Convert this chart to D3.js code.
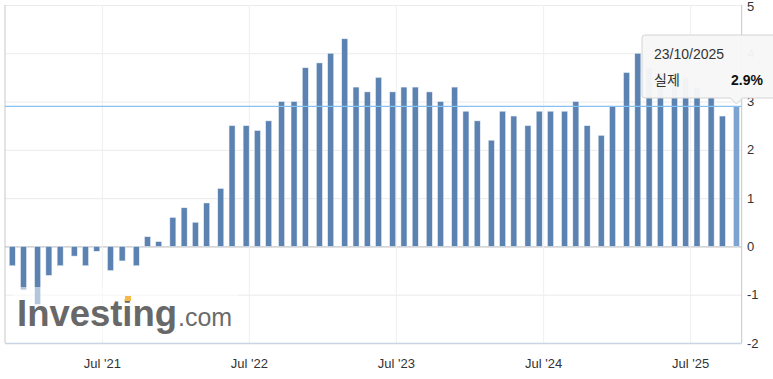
<!DOCTYPE html>
<html>
<head>
<meta charset="utf-8">
<script src="https://cdn.jsdelivr.net/npm/d3@7"></script>
<style>
  body { margin: 0; background: #fff; }
  svg { display: block; font-family: "Liberation Sans", Arial, "Noto Sans CJK KR", sans-serif; }
</style>
</head>
<body>
<div id="chart"></div>
<script>
// release dates (one per month) and CPI y/y actual values
const releaseDates = [
  "2020-11-19","2020-12-17","2021-01-21",
  "2021-02-18","2021-03-18","2021-04-22","2021-05-20","2021-06-17","2021-07-21",
  "2021-08-19","2021-09-23","2021-10-21","2021-11-18","2021-12-23","2022-01-20",
  "2022-02-17","2022-03-17","2022-04-21","2022-05-19","2022-06-23","2022-07-21",
  "2022-08-18","2022-09-19","2022-10-20","2022-11-17","2022-12-22","2023-01-19",
  "2023-02-23","2023-03-23","2023-04-20","2023-05-18","2023-06-22","2023-07-20",
  "2023-08-17","2023-09-21","2023-10-19","2023-11-23","2023-12-21","2024-01-18",
  "2024-02-22","2024-03-21","2024-04-18","2024-05-23","2024-06-20","2024-07-18",
  "2024-08-22","2024-09-19","2024-10-17","2024-11-21","2024-12-19","2025-01-23",
  "2025-02-20","2025-03-20","2025-04-17","2025-05-22","2025-06-19","2025-07-17",
  "2025-08-21","2025-09-18","2025-10-23"
]
const actual = [
  -0.4, -0.9, -1.2,
  -0.6, -0.4, -0.2, -0.4, -0.1, -0.5, -0.3, -0.4, 0.2, 0.1, 0.6, 0.8,
  0.5, 0.9, 1.2, 2.5, 2.5, 2.4, 2.6, 3.0, 3.0, 3.7, 3.8, 4.0,
  4.3, 3.3, 3.2, 3.5, 3.2, 3.3, 3.3, 3.2, 3.0, 3.3, 2.8, 2.6,
  2.2, 2.8, 2.7, 2.5, 2.8, 2.8, 2.8, 3.0, 2.5, 2.3, 2.9, 3.6,
  4.0, 3.7, 3.6, 3.6, 3.5, 3.3, 3.1, 2.7, 2.9
]
const xTicks = ["2021-07-01","2022-07-01","2023-07-01","2024-07-01","2025-07-01"]
const xTickLabels = ["Jul '21","Jul '22","Jul '23","Jul '24","Jul '25"]
const yTicks = [-2, -1, 0, 1, 2, 3, 4, 5]
const hoverLabel = "23/10/2025"
const hoverName = "실제"

const W = 773, H = 379
const plot = {left: 5, right: 741.7, top: 5, bottom: 343}
const parse = d3.timeParse("%Y-%m-%d")
const data = releaseDates.map((d, i) => ({date: parse(d), value: actual[i]}))

const svg = d3.select("#chart").append("svg")
  .attr("width", W).attr("height", H)

const x = d3.scaleTime()
  .domain([parse("2020-11-01"), parse("2025-11-05")])
  .range([plot.left, plot.right])
const y = d3.scaleLinear()
  .domain([-2, 5])
  .range([plot.bottom, plot.top])

// grid
svg.append("g").selectAll("line.h")
  .data(yTicks)
  .join("line")
  .attr("x1", plot.left).attr("x2", plot.right)
  .attr("y1", d => y(d) + 0.5).attr("y2", d => y(d) + 0.5)
  .attr("stroke", d => d === 0 ? "#b8b8b8" : "#ebebeb")
  .attr("stroke-width", 1)

svg.append("g").selectAll("line.v")
  .data(xTicks)
  .join("line")
  .attr("x1", d => x(parse(d))).attr("x2", d => x(parse(d)))
  .attr("y1", plot.top).attr("y2", plot.bottom)
  .attr("stroke", "#efefef")

// borders
svg.append("line")
  .attr("x1", plot.left).attr("x2", plot.left)
  .attr("y1", plot.top).attr("y2", plot.bottom)
  .attr("stroke", "#c6c6c6")
svg.append("line")
  .attr("x1", plot.right).attr("x2", plot.right)
  .attr("y1", plot.top).attr("y2", plot.bottom)
  .attr("stroke", "#c6c6c6")
svg.append("line")
  .attr("x1", plot.left).attr("x2", plot.right)
  .attr("y1", plot.bottom + 0.5).attr("y2", plot.bottom + 0.5)
  .attr("stroke", "#c9d5e2").attr("stroke-width", 1.5)

// bars
const barW = 6
const last = data.length - 1
svg.append("g").selectAll("rect")
  .data(data)
  .join("rect")
  .attr("x", d => x(d.date) - barW / 2)
  .attr("y", d => y(Math.max(0, d.value)))
  .attr("width", barW)
  .attr("height", d => Math.abs(y(d.value) - y(0)))
  .attr("fill", (d, i) => i === last ? "#7da3d1" : "#5b82b0")
  .attr("stroke", "#e9eff6")
  .attr("stroke-width", 0.5)

// watermark
svg.append("rect")
  .attr("x", 13).attr("y", 287)
  .attr("width", 225).attr("height", 52)
  .attr("fill", "#fff").attr("fill-opacity", 0.55)
svg.append("text")
  .attr("x", 17).attr("y", 326)
  .attr("font-size", 36).attr("font-weight", "bold")
  .attr("fill", "#686868")
  .attr("textLength", 160).attr("lengthAdjust", "spacingAndGlyphs")
  .text("Investing")
svg.append("rect")
  .attr("x", 125).attr("y", 296)
  .attr("width", 6).attr("height", 5)
  .attr("fill", "#f5b94a")
svg.append("text")
  .attr("x", 178).attr("y", 326)
  .attr("font-size", 25)
  .attr("fill", "#6b6b6b")
  .text(".com")

// x labels
svg.append("g").selectAll("text")
  .data(xTicks)
  .join("text")
  .attr("x", d => x(parse(d)))
  .attr("y", 368)
  .attr("text-anchor", "middle")
  .attr("font-size", 13)
  .attr("fill", "#333")
  .text((d, i) => xTickLabels[i])

// y labels
svg.append("g").selectAll("text")
  .data(yTicks)
  .join("text")
  .attr("x", 747)
  .attr("y", d => Math.max(y(d) + 4.5, 11))
  .attr("font-size", 13)
  .attr("fill", "#333")
  .text(d => d)

// crosshair
const hv = data[last]
svg.append("line")
  .attr("x1", plot.left).attr("x2", plot.right)
  .attr("y1", y(hv.value)).attr("y2", y(hv.value))
  .attr("stroke", "#86c1f2").attr("stroke-width", 1.2)

// tooltip
const tx = x(hv.date)
const tip = svg.append("g")
const bx0 = 642, bx1 = 790, by0 = 35, by1 = 98
tip.append("path")
  .attr("d", `M${bx0 + 3},${by0} H${bx1} V${by1} H${tx + 6} L${tx},${by1 + 6} L${tx - 6},${by1} H${bx0 + 3} Q${bx0},${by1} ${bx0},${by1 - 3} V${by0 + 3} Q${bx0},${by0} ${bx0 + 3},${by0} Z`)
  .attr("fill", "#f7f7f7").attr("fill-opacity", 0.96)
  .attr("stroke", "#d4d4d4")
tip.append("text")
  .attr("x", 654).attr("y", 59)
  .attr("font-size", 14).attr("fill", "#333")
  .text(hoverLabel)
tip.append("text")
  .attr("x", 654).attr("y", 85)
  .attr("font-size", 14).attr("fill", "#333")
  .text(hoverName)
tip.append("text")
  .attr("x", 763).attr("y", 85)
  .attr("text-anchor", "end")
  .attr("font-size", 14).attr("font-weight", "bold").attr("fill", "#111")
  .text(d3.format(".1f")(hv.value) + "%")
</script>
</body>
</html>
